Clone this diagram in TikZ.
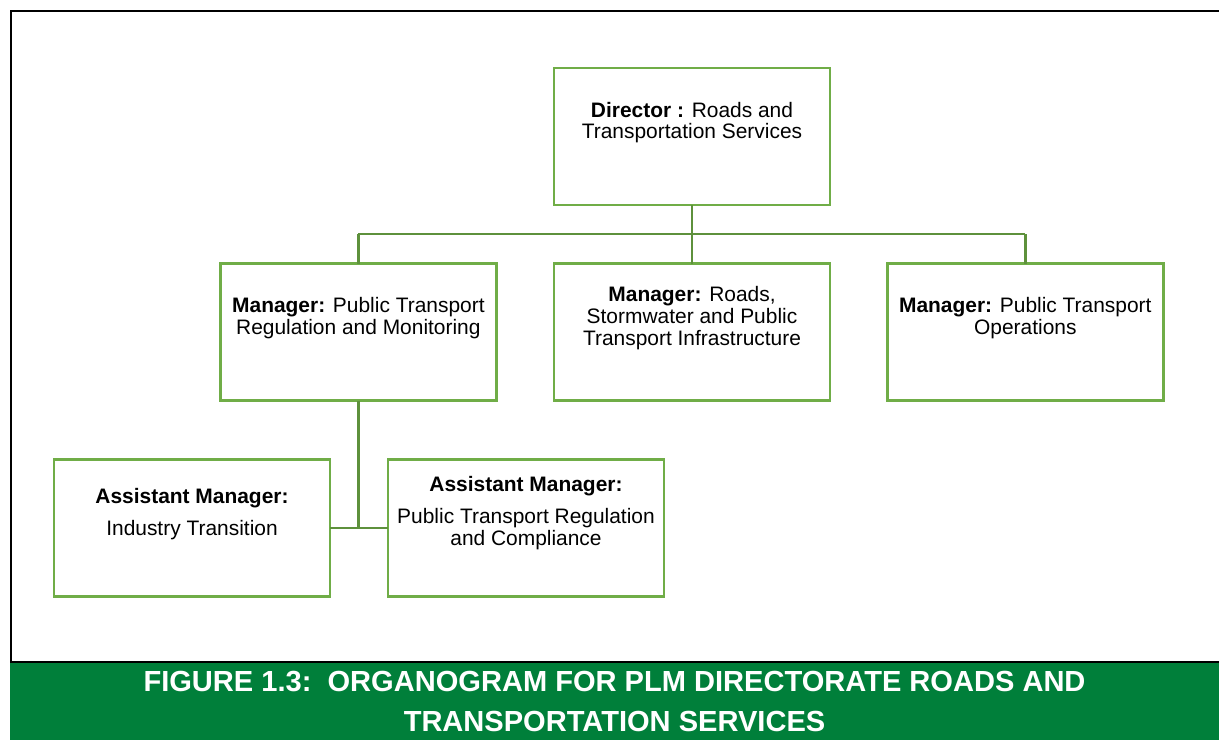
\documentclass[tikz,border=0pt]{standalone}
\usepackage{fontspec}
\setmainfont{Liberation Sans}
\definecolor{boxgreen}{RGB}{112,173,71}
\definecolor{linkgreen}{RGB}{94,145,60}
\definecolor{bandgreen}{RGB}{0,127,58}
\begin{document}
\begin{tikzpicture}[x=0.75pt,y=-0.75pt,
  orgbox/.style={draw=boxgreen,line width=2pt,fill=white,inner sep=0pt,outer sep=0pt,
    minimum width=207pt,minimum height=102.75pt},
  link/.style={draw=linkgreen,line width=1.9pt},
  txt/.style={anchor=base,inner sep=0pt,font=\fontsize{15.7}{16}\selectfont},
  captxt/.style={anchor=base,inner sep=0pt,text=white,font=\fontsize{21.8}{26}\selectfont\bfseries}]
\useasboundingbox (0,0) rectangle (1219,740);
\fill[white] (0,0) rectangle (1219,740);

% frame and caption band
\fill[bandgreen] (10,662) rectangle (1219,740);
\draw[black,line width=1.6pt] (11,662) -- (11,11) -- (1219,11);
\draw[black,line width=1.6pt] (10,662) -- (1219,662);
\node[captxt] (cap1) at (614.5,691.5) {FIGURE 1.3:\ \ ORGANOGRAM FOR PLM DIRECTORATE ROADS AND};
\node[captxt] (cap2) at (614.5,731.5) {TRANSPORTATION SERVICES};

% connectors (drawn first so the boxes sit on top)
\coordinate (busL) at (358.4,234);
\coordinate (busR) at (1025.3,234);
\coordinate (busM) at (692,234);
\coordinate (subJ) at (358.4,528);

% boxes
\node[orgbox] (dir) at (692,136.5) {};
\node[orgbox] (m1) at (358.4,332) {};
\node[orgbox] (m2) at (692,332) {};
\node[orgbox] (m3) at (1025.3,332) {};
\node[orgbox] (a1) at (192,528) {};
\node[orgbox] (a2) at (526,528) {};

\draw[link] (dir.south) -- (busM);
\draw[link] (busL) -- (busR);
\draw[link] (busL) -- (m1.north);
\draw[link] (busM) -- (m2.north);
\draw[link] (busR) -- (m3.north);
\draw[link] (m1.south) -- (subJ);
\draw[link] (a1.east) -- (a2.west);

% box texts
\node[txt] (dirt1) at (692,117) {\textbf{Director :} Roads and};
\node[txt] (dirt2) at (692,138.5) {Transportation Services};

\node[txt] (m1t1) at (358.4,312.5) {\textbf{Manager:} Public Transport};
\node[txt] (m1t2) at (358.4,334) {Regulation and Monitoring};

\node[txt] (m2t1) at (692,301.7) {\textbf{Manager:} Roads,};
\node[txt] (m2t2) at (692,323.5) {Stormwater and Public};
\node[txt] (m2t3) at (692,345.3) {Transport Infrastructure};

\node[txt] (m3t1) at (1025.3,312.5) {\textbf{Manager:} Public Transport};
\node[txt] (m3t2) at (1025.3,334) {Operations};

\node[txt] (a1t1) at (192,503.3) {\textbf{Assistant Manager:}};
\node[txt] (a1t2) at (192,535) {Industry Transition};

\node[txt] (a2t1) at (526,491.7) {\textbf{Assistant Manager:}};
\node[txt] (a2t2) at (526,523.5) {Public Transport Regulation};
\node[txt] (a2t3) at (526,545.3) {and Compliance};
\end{tikzpicture}
\end{document}
